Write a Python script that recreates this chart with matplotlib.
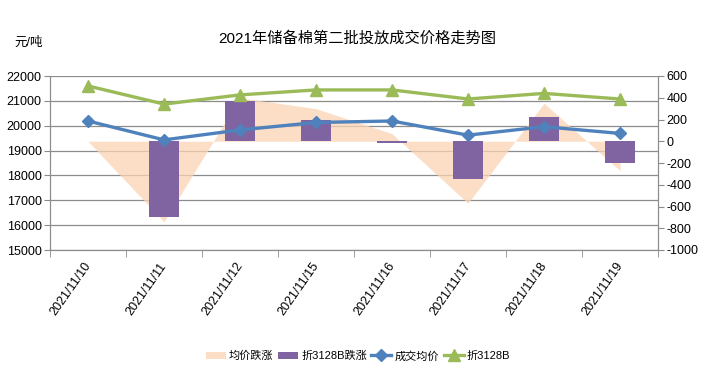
import matplotlib
matplotlib.use('Agg')
import matplotlib.pyplot as plt
import matplotlib.transforms as mtransforms
from matplotlib import font_manager
import numpy as np

# 数据
dates = ['2021/11/10', '2021/11/11', '2021/11/12', '2021/11/15',
         '2021/11/16', '2021/11/17', '2021/11/18', '2021/11/19']
avg_price = [20190, 19430, 19830, 20130, 20190, 19620, 19960, 19690]   # 成交均价
price_3128 = [21600, 20870, 21240, 21440, 21440, 21075, 21300, 21075]  # 折3128B
avg_change = [0, -740, 400, 300, 70, -570, 350, -270]                  # 均价跌涨
change_3128 = [0, -700, 370, 200, -15, -350, 220, -200]                # 折3128B跌涨

names = [f.name for f in font_manager.fontManager.ttflist]
num_font = 'Liberation Sans Narrow' if 'Liberation Sans Narrow' in names else 'Liberation Sans'
plt.rcParams['font.family'] = [num_font, 'Noto Sans CJK SC', 'DejaVu Sans']
plt.rcParams['axes.unicode_minus'] = False

fig = plt.figure(figsize=(7.02, 3.87), dpi=100)
ax = fig.add_axes([50 / 702, 1 - 250 / 387, 608 / 702, 174 / 387])
ax2 = ax.twinx()
ax3 = ax.twinx()

x = np.arange(len(dates))

# 网格 (左轴)
ax.set_ylim(15000, 22000)
ax.set_yticks(range(15000, 22001, 1000))
ax.grid(axis='y', color='#8c8c8c', linewidth=0.9)
ax.set_axisbelow(True)

# 面积和柱子 (右轴)
ax2.fill_between(x, 0, avg_change, color='#fbd4b4', alpha=0.75, linewidth=0, label='均价跌涨')
ax2.bar(x, change_3128, width=0.4, color='#8064a2', label='折3128B跌涨')
ax2.set_ylim(-1000, 600)
ax2.set_yticks(range(-1000, 601, 200))

# 折线 (左轴刻度)
ax3.plot(x, avg_price, color='#4f81bd', linewidth=2.4, marker='D', markersize=6, label='成交均价')
ax3.plot(x, price_3128, color='#9bbb59', linewidth=2.4, marker='^', markersize=8, label='折3128B')
ax3.set_ylim(15000, 22000)
ax3.axis('off')

ax.set_xlim(-0.5, len(dates) - 0.5)
ax.set_xticks(x)
ax.set_xticklabels(dates, rotation=55, ha='right', va='center', rotation_mode='anchor', fontsize=9)
offset = mtransforms.ScaledTranslation(0.06, -0.05, fig.dpi_scale_trans)
for lab in ax.get_xticklabels():
    lab.set_transform(lab.get_transform() + offset)
ax.set_xticks(np.arange(-0.5, len(dates)), minor=True)
ax.tick_params(axis='x', which='major', length=0, pad=10)
ax.tick_params(axis='x', which='minor', length=5, color='#8c8c8c')
ax.tick_params(axis='y', labelsize=9, length=4, color='#8c8c8c', pad=2)
ax2.tick_params(axis='y', labelsize=9, length=4, color='#8c8c8c', pad=2)

for a in (ax, ax2):
    for s in a.spines.values():
        s.set_color('#8c8c8c')
    a.spines['top'].set_visible(False)

fig.text(0.509, 0.90, '2021年储备棉第二批投放成交价格走势图', ha='center', va='center', fontsize=11)
fig.text(14 / 702, 1 - 43 / 387, '元/吨', ha='left', va='center', fontsize=9)

h1, l1 = ax2.get_legend_handles_labels()
h2, l2 = ax3.get_legend_handles_labels()
fig.legend(h1 + h2, l1 + l2, loc='center', bbox_to_anchor=(0.51, 0.08), ncol=4, frameon=False,
           fontsize=8, handlelength=1.8, handletextpad=0.3, columnspacing=0.4)

fig.savefig('out.png', dpi=100)
